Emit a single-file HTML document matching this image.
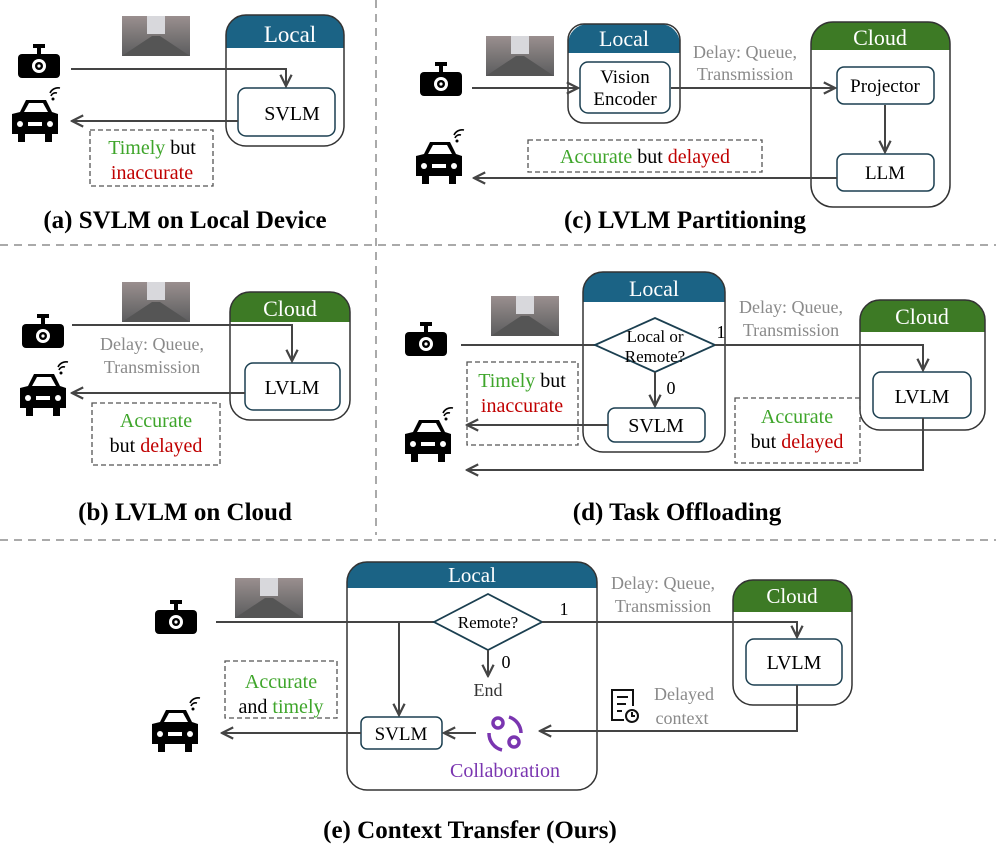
<!DOCTYPE html>
<html><head><meta charset="utf-8"><style>
html,body{margin:0;padding:0;background:#fff;}
svg{display:block;font-family:"Liberation Serif",serif;}
.g{fill:#8a8a8a}.gr{fill:#3ea52a}.rd{fill:#c00000}.pu{fill:#7a35b0}
.cap{font-weight:bold;font-size:25px;fill:#000}
</style></head><body>
<svg width="996" height="850" viewBox="0 0 996 850" xmlns="http://www.w3.org/2000/svg">
<defs>
<marker id="ar" viewBox="0 0 10 10" refX="9" refY="5" markerWidth="7" markerHeight="7" orient="auto-start-reverse">
<path d="M1,1 L9,5 L1,9" fill="none" stroke="#444" stroke-width="1.6"/></marker>
<g id="cam"><rect x="15" y="0" width="12" height="4" fill="#000"/><rect x="19" y="3" width="4" height="8" fill="#000"/><rect x="0" y="10" width="42" height="24" rx="4" fill="#000"/><circle cx="21" cy="22" r="7" fill="#fff"/><circle cx="21" cy="22" r="4" fill="#000"/><circle cx="21" cy="22" r="1.6" fill="#fff"/></g>
<g id="car"><path d="M8,14 L14,2 L34,2 L40,14 L46,16 L46,36 L40,36 L40,44 L33,44 L33,36 L13,36 L13,44 L6,44 L6,36 L0,36 L0,16 Z" fill="#000" transform="translate(0,6)"/><path d="M12,20 L17,11 L31,11 L36,20 Z" fill="#fff"/><circle cx="8" cy="32" r="3" fill="#fff"/><circle cx="38" cy="32" r="3" fill="#fff"/><rect x="16" y="30" width="14" height="4" fill="#fff"/><path d="M39,4 a5,5 0 0 1 6,-3 M38,1 a9,9 0 0 1 10,-5" fill="none" stroke="#000" stroke-width="1.6"/><circle cx="41" cy="7" r="1.5" fill="#000"/></g>
<linearGradient id="sky" x1="0" y1="0" x2="0" y2="1"><stop offset="0" stop-color="#9a8f8f"/><stop offset="0.5" stop-color="#7a7676"/><stop offset="1" stop-color="#5c5c5e"/></linearGradient>
<g id="img"><rect width="68" height="40" fill="url(#sky)"/><rect x="25" y="0" width="18" height="18" fill="#d8d8dc"/><path d="M0,40 L30,20 L38,20 L68,40Z" fill="#555"/></g>
</defs>
<g stroke="#aaa" stroke-width="2" stroke-dasharray="8,6">
<line x1="0" y1="245" x2="996" y2="245"/><line x1="376" y1="0" x2="376" y2="535"/><line x1="0" y1="540" x2="996" y2="540"/></g>

<!-- (a) -->
<use href="#cam" x="18" y="44"/><use href="#car" x="12" y="92"/><use href="#img" x="122" y="16"/>
<path d="M246,15 h78 a20,20 0 0 1 20,20 v13 h-118 v-13 a20,20 0 0 1 20,-20z" fill="#1b6385"/>
<rect x="226" y="15" width="118" height="131" rx="20" fill="none" stroke="#333" stroke-width="1.5"/>
<text x="290" y="42" text-anchor="middle" font-size="23" fill="#fff">Local</text>
<rect x="238" y="88" width="97" height="48" rx="8" fill="#fff" stroke="#1b3f50" stroke-width="1.5"/>
<text x="292" y="120" text-anchor="middle" font-size="20">SVLM</text>
<path d="M71,69 H286 V86" fill="none" stroke="#444" stroke-width="2" marker-end="url(#ar)"/>
<path d="M238,121 H72" fill="none" stroke="#444" stroke-width="2" marker-end="url(#ar)"/>
<rect x="90" y="130" width="123" height="56" fill="none" stroke="#555" stroke-width="1.3" stroke-dasharray="5,3"/>
<text x="152" y="154" text-anchor="middle" font-size="20"><tspan class="gr">Timely</tspan> but</text>
<text x="152" y="179" text-anchor="middle" font-size="20" class="rd">inaccurate</text>
<text x="185" y="228" text-anchor="middle" class="cap">(a) SVLM on Local Device</text>

<!-- (c) -->
<use href="#cam" x="420" y="62"/><use href="#car" x="416" y="134"/><use href="#img" x="486" y="36"/>
<path d="M588,24 h72 a20,20 0 0 1 20,20 v9 h-112 v-9 a20,20 0 0 1 20,-20z" fill="#1b6385"/>
<rect x="568" y="24" width="112" height="99" rx="16" fill="none" stroke="#333" stroke-width="1.5"/>
<text x="624" y="46" text-anchor="middle" font-size="22" fill="#fff">Local</text>
<rect x="580" y="62" width="90" height="51" rx="8" fill="#fff" stroke="#1b3f50" stroke-width="1.5"/>
<text x="625" y="83" text-anchor="middle" font-size="19">Vision</text>
<text x="625" y="105" text-anchor="middle" font-size="19">Encoder</text>
<path d="M831,22 h99 a20,20 0 0 1 20,20 v8 h-139 v-8 a20,20 0 0 1 20,-20z" fill="#3d7a25"/>
<rect x="811" y="22" width="139" height="185" rx="22" fill="none" stroke="#333" stroke-width="1.5"/>
<text x="880" y="45" text-anchor="middle" font-size="22" fill="#fff">Cloud</text>
<rect x="837" y="67" width="97" height="37" rx="7" fill="#fff" stroke="#1b3f50" stroke-width="1.5"/>
<text x="885" y="92" text-anchor="middle" font-size="19">Projector</text>
<rect x="837" y="154" width="97" height="37" rx="7" fill="#fff" stroke="#1b3f50" stroke-width="1.5"/>
<text x="885" y="179" text-anchor="middle" font-size="19">LLM</text>
<path d="M472,88 H578" fill="none" stroke="#444" stroke-width="2" marker-end="url(#ar)"/>
<path d="M671,88 H835" fill="none" stroke="#444" stroke-width="2" marker-end="url(#ar)"/>
<path d="M885,105 V152" fill="none" stroke="#444" stroke-width="2" marker-end="url(#ar)"/>
<path d="M837,178 H474" fill="none" stroke="#444" stroke-width="2" marker-end="url(#ar)"/>
<text x="745" y="58" text-anchor="middle" font-size="18" class="g">Delay: Queue,</text>
<text x="745" y="80" text-anchor="middle" font-size="18" class="g">Transmission</text>
<rect x="528" y="140" width="234" height="32" fill="none" stroke="#555" stroke-width="1.3" stroke-dasharray="5,3"/>
<text x="645" y="163" text-anchor="middle" font-size="20"><tspan class="gr">Accurate</tspan> but <tspan class="rd">delayed</tspan></text>
<text x="685" y="228" text-anchor="middle" class="cap">(c) LVLM Partitioning</text>

<!-- (b) -->
<use href="#cam" x="22" y="314"/><use href="#car" x="20" y="366"/><use href="#img" x="122" y="282"/>
<path d="M250,292 h80 a20,20 0 0 1 20,20 v10 h-120 v-10 a20,20 0 0 1 20,-20z" fill="#3d7a25"/>
<rect x="230" y="292" width="120" height="128" rx="20" fill="none" stroke="#333" stroke-width="1.5"/>
<text x="290" y="316" text-anchor="middle" font-size="22" fill="#fff">Cloud</text>
<rect x="245" y="363" width="95" height="47" rx="8" fill="#fff" stroke="#1b3f50" stroke-width="1.5"/>
<text x="292" y="394" text-anchor="middle" font-size="20">LVLM</text>
<path d="M72,325 H292 V361" fill="none" stroke="#444" stroke-width="2" marker-end="url(#ar)"/>
<path d="M245,393 H72" fill="none" stroke="#444" stroke-width="2" marker-end="url(#ar)"/>
<text x="152" y="350" text-anchor="middle" font-size="18" class="g">Delay: Queue,</text>
<text x="152" y="373" text-anchor="middle" font-size="18" class="g">Transmission</text>
<rect x="92" y="403" width="128" height="62" fill="none" stroke="#555" stroke-width="1.3" stroke-dasharray="5,3"/>
<text x="156" y="427" text-anchor="middle" font-size="20" class="gr">Accurate</text>
<text x="156" y="452" text-anchor="middle" font-size="20">but <tspan class="rd">delayed</tspan></text>
<text x="185" y="520" text-anchor="middle" class="cap">(b) LVLM on Cloud</text>

<!-- (d) -->
<use href="#cam" x="405" y="322"/><use href="#car" x="405" y="412"/><use href="#img" x="491" y="296"/>
<path d="M603,272 h102 a20,20 0 0 1 20,20 v10 h-142 v-10 a20,20 0 0 1 20,-20z" fill="#1b6385"/>
<rect x="583" y="272" width="142" height="180" rx="20" fill="none" stroke="#333" stroke-width="1.5"/>
<text x="654" y="296" text-anchor="middle" font-size="22" fill="#fff">Local</text>
<path d="M461,345 H595" fill="none" stroke="#444" stroke-width="2"/>
<path d="M595,345 L655,318 L715,345 L655,372 Z" fill="#fff" stroke="#1b3f50" stroke-width="1.8"/>
<text x="655" y="342" text-anchor="middle" font-size="17">Local or</text>
<text x="655" y="362" text-anchor="middle" font-size="17">Remote?</text>
<text x="721" y="338" text-anchor="middle" font-size="18">1</text>
<text x="671" y="394" text-anchor="middle" font-size="18">0</text>
<path d="M655,372 V406" fill="none" stroke="#444" stroke-width="2" marker-end="url(#ar)"/>
<rect x="608" y="408" width="97" height="34" rx="7" fill="#fff" stroke="#1b3f50" stroke-width="1.5"/>
<text x="656" y="432" text-anchor="middle" font-size="20">SVLM</text>
<path d="M880,300 h85 a20,20 0 0 1 20,20 v12 h-125 v-12 a20,20 0 0 1 20,-20z" fill="#3d7a25"/>
<rect x="860" y="300" width="125" height="130" rx="20" fill="none" stroke="#333" stroke-width="1.5"/>
<text x="922" y="324" text-anchor="middle" font-size="22" fill="#fff">Cloud</text>
<rect x="873" y="372" width="98" height="46" rx="8" fill="#fff" stroke="#1b3f50" stroke-width="1.5"/>
<text x="922" y="403" text-anchor="middle" font-size="20">LVLM</text>
<path d="M715,345 H923 V370" fill="none" stroke="#444" stroke-width="2" marker-end="url(#ar)"/>
<path d="M608,425 H467" fill="none" stroke="#444" stroke-width="2" marker-end="url(#ar)"/>
<path d="M923,418 V470 H467" fill="none" stroke="#444" stroke-width="2" marker-end="url(#ar)"/>
<text x="791" y="313" text-anchor="middle" font-size="18" class="g">Delay: Queue,</text>
<text x="791" y="336" text-anchor="middle" font-size="18" class="g">Transmission</text>
<rect x="467" y="362" width="111" height="83" fill="none" stroke="#555" stroke-width="1.3" stroke-dasharray="5,3"/>
<text x="522" y="387" text-anchor="middle" font-size="20"><tspan class="gr">Timely</tspan> but</text>
<text x="522" y="412" text-anchor="middle" font-size="20" class="rd">inaccurate</text>
<rect x="735" y="398" width="125" height="65" fill="none" stroke="#555" stroke-width="1.3" stroke-dasharray="5,3"/>
<text x="797" y="423" text-anchor="middle" font-size="20" class="gr">Accurate</text>
<text x="797" y="448" text-anchor="middle" font-size="20">but <tspan class="rd">delayed</tspan></text>
<text x="677" y="520" text-anchor="middle" class="cap">(d) Task Offloading</text>

<!-- (e) -->
<use href="#cam" x="155" y="600"/><use href="#car" x="152" y="702"/><use href="#img" x="235" y="578"/>
<path d="M367,562 h210 a20,20 0 0 1 20,20 v6 h-250 v-6 a20,20 0 0 1 20,-20z" fill="#1b6385"/>
<rect x="347" y="562" width="250" height="228" rx="20" fill="none" stroke="#333" stroke-width="1.5"/>
<text x="472" y="582" text-anchor="middle" font-size="21" fill="#fff">Local</text>
<path d="M753,580 h79 a20,20 0 0 1 20,20 v12 h-119 v-12 a20,20 0 0 1 20,-20z" fill="#3d7a25"/>
<rect x="733" y="580" width="119" height="125" rx="20" fill="none" stroke="#333" stroke-width="1.5"/>
<text x="792" y="603" text-anchor="middle" font-size="21" fill="#fff">Cloud</text>
<rect x="746" y="639" width="96" height="46" rx="8" fill="#fff" stroke="#1b3f50" stroke-width="1.5"/>
<text x="794" y="669" text-anchor="middle" font-size="20">LVLM</text>
<path d="M216,622 H434" fill="none" stroke="#444" stroke-width="2"/>
<path d="M399,622 V715" fill="none" stroke="#444" stroke-width="2" marker-end="url(#ar)"/>
<path d="M434,622 L488,594 L542,622 L488,650 Z" fill="#fff" stroke="#1b3f50" stroke-width="1.8"/>
<text x="488" y="628" text-anchor="middle" font-size="17">Remote?</text>
<text x="564" y="615" text-anchor="middle" font-size="18">1</text>
<text x="506" y="668" text-anchor="middle" font-size="18">0</text>
<path d="M488,650 V676" fill="none" stroke="#444" stroke-width="2" marker-end="url(#ar)"/>
<text x="488" y="696" text-anchor="middle" font-size="18" fill="#333">End</text>
<path d="M542,622 H797 V637" fill="none" stroke="#444" stroke-width="2" marker-end="url(#ar)"/>
<rect x="361" y="717" width="81" height="32" rx="6" fill="#fff" stroke="#1b3f50" stroke-width="1.5"/>
<text x="401" y="740" text-anchor="middle" font-size="19">SVLM</text>
<path d="M797,685 V731 H540" fill="none" stroke="#444" stroke-width="2" marker-end="url(#ar)"/>
<path d="M476,733 H444" fill="none" stroke="#444" stroke-width="2" marker-end="url(#ar)"/>
<path d="M361,733 H222" fill="none" stroke="#444" stroke-width="2" marker-end="url(#ar)"/>
<g fill="none" stroke="#7a35b0" stroke-width="3.5">
<circle cx="498" cy="723" r="5"/><circle cx="514" cy="742" r="5"/>
<path d="M509,717 a17,17 0 0 1 12,16"/><path d="M489,733 a17,17 0 0 0 13,17"/></g>
<text x="505" y="777" text-anchor="middle" font-size="20" class="pu">Collaboration</text>
<text x="663" y="589" text-anchor="middle" font-size="18" class="g">Delay: Queue,</text>
<text x="663" y="612" text-anchor="middle" font-size="18" class="g">Transmission</text>
<g fill="none" stroke="#111" stroke-width="2"><path d="M633,706 V690 H612 V720 H624"/><path d="M617,697 H628 M617,704 H626 M617,711 H622"/><circle cx="632" cy="716" r="6"/><path d="M632,712 V716 H635"/></g>
<text x="684" y="700" text-anchor="middle" font-size="18" class="g">Delayed</text>
<text x="682" y="724" text-anchor="middle" font-size="18" class="g">context</text>
<rect x="225" y="661" width="112" height="57" fill="none" stroke="#555" stroke-width="1.3" stroke-dasharray="5,3"/>
<text x="281" y="688" text-anchor="middle" font-size="20" class="gr">Accurate</text>
<text x="281" y="713" text-anchor="middle" font-size="20">and <tspan class="gr">timely</tspan></text>
<text x="470" y="838" text-anchor="middle" class="cap">(e) Context Transfer (Ours)</text>
</svg>
</body></html>
